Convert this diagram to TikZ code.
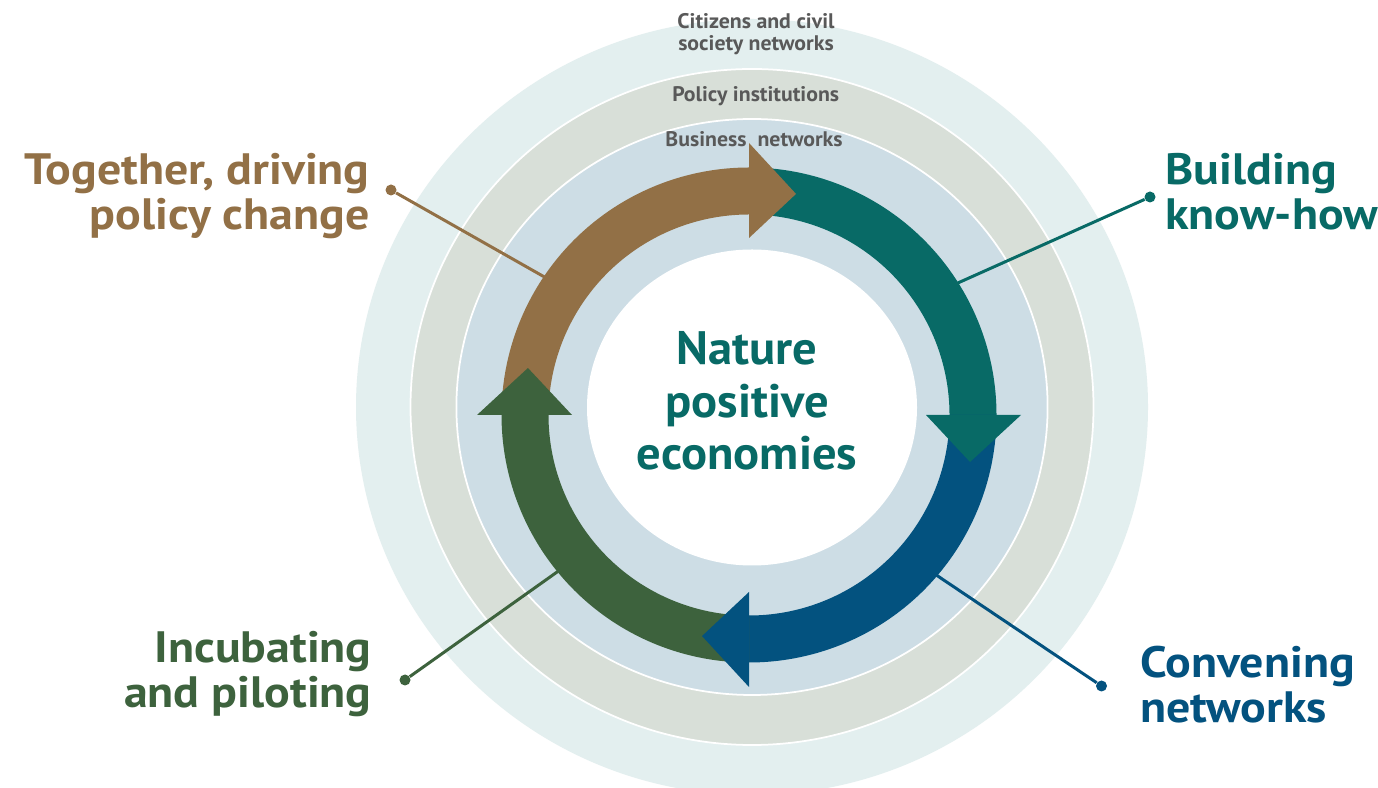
\documentclass[tikz,border=0pt]{standalone}
\usepackage{fontspec}
\setmainfont{PT Sans}
\newfontfamily\labelfont{PT Sans}[FakeStretch=1.09]
\newfontfamily\midfont{PT Sans}[FakeStretch=1.035]
\usetikzlibrary{calc}
\definecolor{cbrown}{HTML}{927046}
\definecolor{cteal}{HTML}{086A66}
\definecolor{cblue}{HTML}{03527F}
\definecolor{cgreen}{HTML}{3D623D}
\definecolor{ringout}{HTML}{E3EFEF}
\definecolor{ringmid}{HTML}{D8DFD8}
\definecolor{ringin}{HTML}{CDDDE5}
\definecolor{graytext}{HTML}{595959}
\newcommand{\ringbody}[2]{%
  \fill[#1] ($(C)+(#2:247.5)$) arc[start angle=#2, end angle=#2-92, radius=247.5]
    -- ($(C)+(#2-92:200.5)$) arc[start angle=#2-92, end angle=#2, radius=200.5] -- cycle;}
\newcommand{\ringhead}[2]{%
  \fill[#1] ($(C)+(#2:272)$) -- ($(C)+(#2-12:226)$) -- ($(C)+(#2:177)$) -- cycle;}
\begin{document}
\begin{tikzpicture}[x=0.02cm,y=0.02cm,
  biglabel/.style={font=\labelfont\bfseries\fontsize{25}{25.5}\selectfont, inner sep=0pt},
  ringlabel/.style={font=\midfont\bfseries\fontsize{12}{12.6}\selectfont, text=graytext, inner sep=0pt, align=center},
  dot/.style={circle, fill, inner sep=0pt, minimum size=0.22cm},
  connector/.style={line width=1.7pt}]
\useasboundingbox (0,0) rectangle (1378,787);
\clip (0,0) rectangle (1378,787);
\fill[white] (0,0) rectangle (1378,787);
\coordinate (B) at (752,380);
\coordinate (C) at (749,372);
\coordinate (W) at (752,379.5);
% rings
\fill[ringout] (B) ellipse [x radius=396, y radius=388];
\fill[ringmid] (B) ellipse [x radius=341.5, y radius=338];
\fill[ringin] (B) ellipse [x radius=295.6, y radius=288];
\draw[white, line width=1pt] (B) ellipse [x radius=341.5, y radius=338];
\draw[white, line width=1pt] (B) ellipse [x radius=295.6, y radius=288];
\fill[white] (W) ellipse [x radius=165, y radius=158];
% ring labels
\node[ringlabel, anchor=north] (citizens) at (756,774) {Citizens and civil\\society networks};
\node[ringlabel, anchor=base] (policy) at (755.7,685.3) {Policy institutions};
\node[ringlabel, anchor=base] (business) at (754,640.3) {Business\ \ networks};
% connector end points on arrow edges
\coordinate (ebrown) at ($(C)+(146:247)$);
\coordinate (eteal) at ($(C)+(32.3:247)$);
\coordinate (eblue) at ($(C)+(-40.5:247)$);
\coordinate (egreen) at ($(C)+(-140.7:247)$);
% dots
\node[dot, cbrown] (dbrown) at (391,597) {};
\node[dot, cteal] (dteal) at (1150,590) {};
\node[dot, cblue] (dblue) at (1101.5,101) {};
\node[dot, cgreen] (dgreen) at (405,107) {};
\draw[connector, cbrown] (dbrown) -- (ebrown);
\draw[connector, cteal] (dteal) -- (eteal);
\draw[connector, cblue] (dblue) -- (eblue);
\draw[connector, cgreen] (dgreen) -- (egreen);
% arrow bodies
\ringbody{cbrown}{180}
\ringbody{cteal}{90}
\ringbody{cblue}{0}
\ringbody{cgreen}{-90}
% arrow heads
\ringhead{cbrown}{90}
\ringhead{cteal}{0}
\ringhead{cblue}{-90}
\ringhead{cgreen}{180}
% center text
\node[font=\midfont\bfseries\fontsize{26.7}{29.8}\selectfont, text=cteal, align=center, inner sep=0pt] (center) at (747,386) {Nature\\positive\\economies};
% labels
\node[biglabel, text=cbrown, align=right, anchor=north east] (ltogether) at (370,634) {Together, driving\\policy change};
\node[biglabel, text=cteal, align=left, anchor=north west] (lbuilding) at (1165,634) {Building\\know-how};
\node[biglabel, text=cgreen, align=right, anchor=north east] (lincub) at (372,156) {Incubating\\and piloting};
\node[biglabel, text=cblue, align=left, anchor=north west] (lconv) at (1140,141) {Convening\\networks};
\end{tikzpicture}
\end{document}
